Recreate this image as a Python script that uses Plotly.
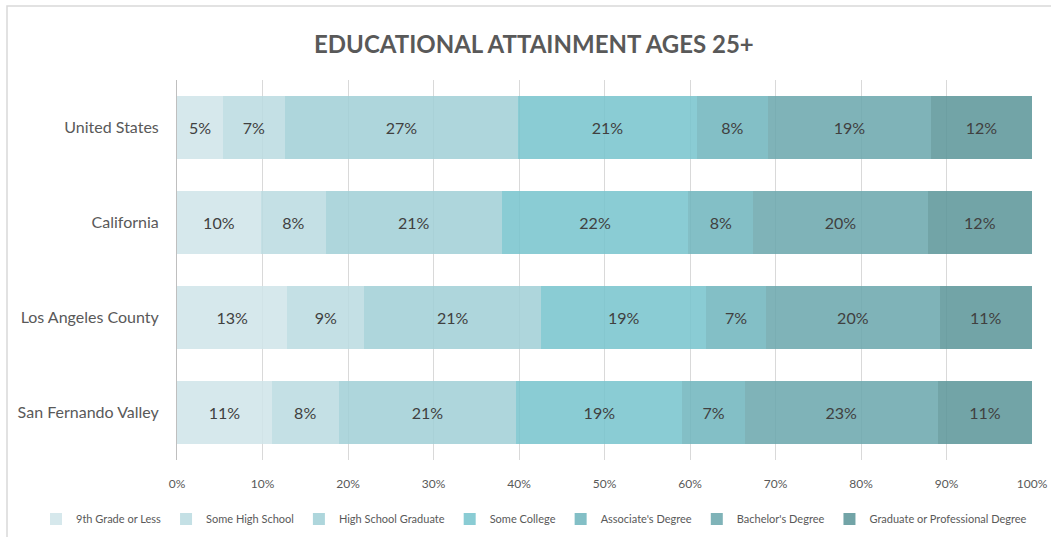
import plotly.graph_objects as go

regions = ["United States", "California", "Los Angeles County", "San Fernando Valley"]
levels = ["9th Grade or Less", "Some High School", "High School Graduate", "Some College",
          "Associate's Degree", "Bachelor's Degree", "Graduate or Professional Degree"]

ninth_or_less = [5.4, 9.8, 12.9, 11.1]
some_high_school = [7.2, 7.6, 9.0, 7.8]
high_school_grad = [27.3, 20.6, 20.7, 20.8]
some_college = [20.9, 21.8, 19.3, 19.4]
associates = [8.3, 7.6, 7.0, 7.3]
bachelors = [19.1, 20.4, 20.3, 22.6]
graduate = [11.8, 12.2, 10.8, 11.0]

series = [ninth_or_less, some_high_school, high_school_grad, some_college,
          associates, bachelors, graduate]
colors = ["rgba(207,228,233,0.85)", "rgba(186,219,224,0.85)", "rgba(160,207,214,0.85)",
          "rgba(117,195,204,0.85)", "rgba(109,180,188,0.85)", "rgba(104,166,172,0.85)",
          "rgba(89,148,152,0.85)"]

FONT = "Lato"
fig = go.Figure()
for name, vals, col in zip(levels, series, colors):
    fig.add_trace(go.Bar(
        y=regions, x=vals, name=name, orientation="h",
        marker=dict(color=col, line=dict(width=0)),
        text=[f"{v:.0f}%" for v in vals], textposition="inside",
        insidetextanchor="middle", textangle=0,
        textfont=dict(family=FONT, size=16, color="#404040"),
        hoverinfo="skip",
    ))

fig.update_layout(
    barmode="stack", bargap=0.34,
    width=1051, height=537,
    margin=dict(l=177, r=19, t=80, b=77, autoexpand=False),
    paper_bgcolor="white", plot_bgcolor="white",
    font=dict(family=FONT, color="#595959"),
    title=dict(text="<b>EDUCATIONAL ATTAINMENT AGES 25+</b>", x=0.508, xanchor="center",
               y=1 - 45 / 537, yanchor="middle",
               font=dict(family=FONT, size=24, color="#595959")),
    xaxis=dict(range=[0, 100], dtick=10, ticksuffix="%", showgrid=True,
               gridcolor="#d9d9d9", gridwidth=1, zeroline=False, showline=False,
               ticks="", ticklabelstandoff=15,
               tickfont=dict(family=FONT, size=12, color="#595959"), fixedrange=True),
    yaxis=dict(autorange="reversed", showline=True, linecolor="#bfbfbf", linewidth=1,
               ticks="", ticklabelstandoff=14,
               tickfont=dict(family=FONT, size=16, color="#595959")),
    legend=dict(orientation="h", x=(36 - 177) / 855, xanchor="left",
                y=(460 - 519) / 380, yanchor="middle",
                traceorder="normal", font=dict(family=FONT, size=11, color="#595959"),
                itemwidth=30),
    showlegend=True,
    shapes=[dict(type="rect", xref="paper", yref="paper",
                 x0=(7 - 177) / 855, x1=1.2, y0=-0.4, y1=(460 - 6) / 380,
                 line=dict(color="#d9d9d9", width=1.5), layer="below")],
)

fig.write_html("out.html", config={"displayModeBar": False},
               post_script="document.body.style.margin='0px';")
